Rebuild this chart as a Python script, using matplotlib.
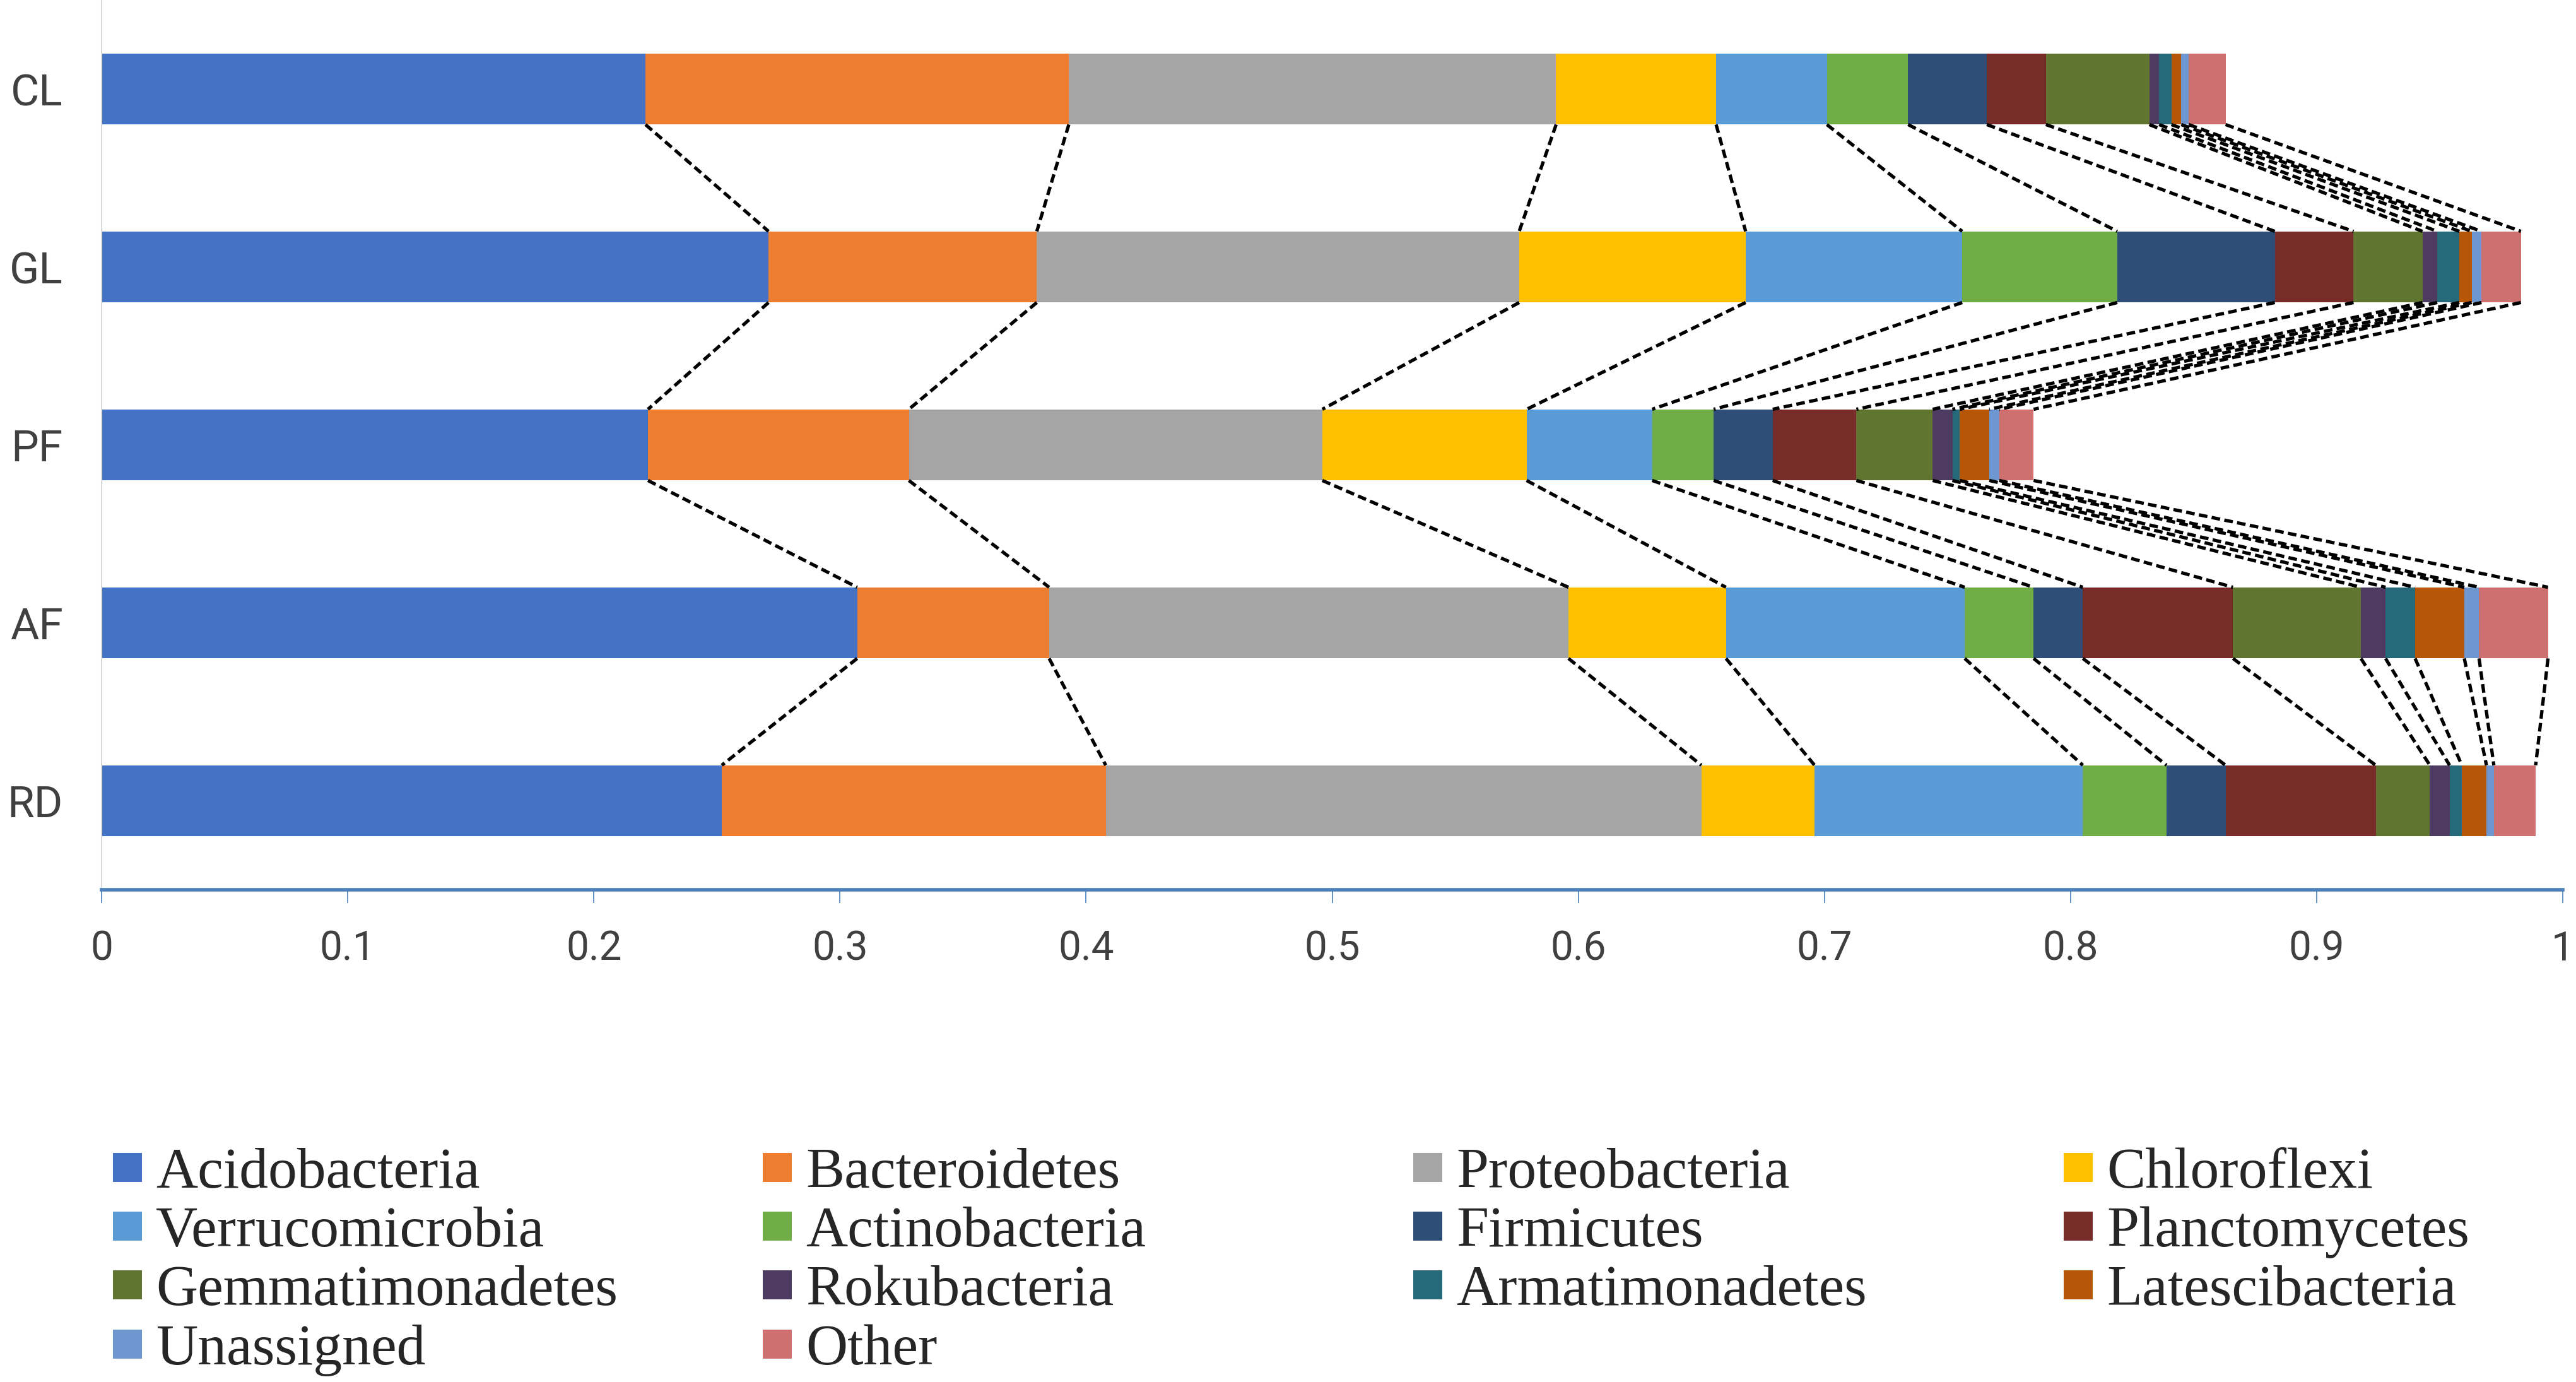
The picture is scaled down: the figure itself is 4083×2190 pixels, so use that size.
#!/usr/bin/env python3
"""Stacked horizontal bars of phylum relative abundance per site,
with dashed series lines joining the cumulative boundaries of neighbouring bars."""
import numpy as np
import matplotlib
matplotlib.use("Agg")
import matplotlib.pyplot as plt
from matplotlib.patches import Rectangle

sites = ["CL", "GL", "PF", "AF", "RD"]
phyla = ["Acidobacteria", "Bacteroidetes", "Proteobacteria", "Chloroflexi",
         "Verrucomicrobia", "Actinobacteria", "Firmicutes", "Planctomycetes",
         "Gemmatimonadetes", "Rokubacteria", "Armatimonadetes", "Latescibacteria",
         "Unassigned", "Other"]
colors = ["#4472c4", "#ed7d31", "#a5a5a5", "#ffc000", "#5b9bd5", "#70ad47",
          "#2e4e78", "#772c2a", "#5f7530", "#4d3b62", "#25697b", "#b65708",
          "#6f97cf", "#ce7070"]

# relative abundance, one list per phylum, in site order CL, GL, PF, AF, RD
acido = [0.221, 0.271, 0.222, 0.307, 0.252]
bacter = [0.172, 0.109, 0.106, 0.078, 0.156]
proteo = [0.198, 0.196, 0.168, 0.211, 0.242]
chloro = [0.065, 0.092, 0.083, 0.064, 0.046]
verruco = [0.045, 0.088, 0.051, 0.097, 0.109]
actino = [0.033, 0.063, 0.025, 0.028, 0.034]
firmi = [0.032, 0.064, 0.024, 0.020, 0.024]
plancto = [0.024, 0.032, 0.034, 0.061, 0.061]
gemma = [0.042, 0.028, 0.031, 0.052, 0.022]
roku = [0.004, 0.006, 0.008, 0.010, 0.008]
armat = [0.005, 0.009, 0.003, 0.012, 0.005]
latesci = [0.004, 0.005, 0.012, 0.020, 0.010]
unassigned = [0.003, 0.004, 0.004, 0.006, 0.003]
other = [0.015, 0.016, 0.014, 0.028, 0.017]
series = [acido, bacter, proteo, chloro, verruco, actino, firmi, plancto,
          gemma, roku, armat, latesci, unassigned, other]
xticks = [0, 0.1, 0.2, 0.3, 0.4, 0.5, 0.6, 0.7, 0.8, 0.9, 1]
xticklabels = ["0", "0.1", "0.2", "0.3", "0.4", "0.5", "0.6", "0.7", "0.8", "0.9", "1"]

W, H = 4083, 2190
fig = plt.figure(figsize=(W / 100, H / 100), dpi=100)
ax = fig.add_axes([161 / W, 1 - 1410 / H, (4062 - 161) / W, 1410 / H])

ypos = np.arange(len(sites))[::-1]  # CL on top
bar_h = 0.4
vals = np.array(series)
left = np.zeros(len(sites))
for v, c in zip(vals, colors):
    ax.barh(ypos, v, height=bar_h, left=left, color=c, edgecolor="none", zorder=2)
    left = left + v

# series lines between consecutive bars
cum = np.cumsum(vals, axis=0)
for k in range(cum.shape[0]):
    for i in range(len(sites) - 1):
        ax.plot([cum[k, i], cum[k, i + 1]],
                [ypos[i] - bar_h / 2, ypos[i + 1] + bar_h / 2],
                color="black", lw=3.8, ls=(0, (2.6, 1.3)), zorder=3,
                dash_capstyle="butt")

ax.set_xlim(0, 1)
ax.set_ylim(-0.5, len(sites) - 0.5)
ax.set_xticks(xticks)
ax.set_xticklabels(xticklabels, fontsize=46, family="Roboto", color="#404040")
ax.set_yticks(ypos)
ax.set_yticklabels(sites, fontsize=50, family="Roboto", color="#404040")
ax.tick_params(axis="x", length=15, width=1.2, color="#4a7ebb", pad=30, direction="out")
ax.tick_params(axis="y", length=0, pad=44)

for s in ["top", "right"]:
    ax.spines[s].set_visible(False)
ax.spines["bottom"].set_color("#4a7ebb")
ax.spines["bottom"].set_linewidth(4)
ax.spines["left"].set_color("#d9d9d9")
ax.spines["left"].set_linewidth(1.5)

# legend, four columns in Excel order
col_x = [179, 1209, 2240, 3271]
row_y = [1850, 1943, 2036, 2130]
sq = 46
for idx, (name, c) in enumerate(zip(phyla, colors)):
    r, col = divmod(idx, 4)
    x0, yc = col_x[col], row_y[r]
    fig.add_artist(Rectangle((x0 / W, 1 - (yc + sq / 2) / H), sq / W, sq / H,
                             transform=fig.transFigure, facecolor=c, edgecolor="none"))
    fig.text((x0 + 68) / W, 1 - yc / H, name, fontsize=66, family="Liberation Serif",
             color="#262626", va="center_baseline", ha="left")

fig.savefig("out.png", dpi=100, facecolor="white")
